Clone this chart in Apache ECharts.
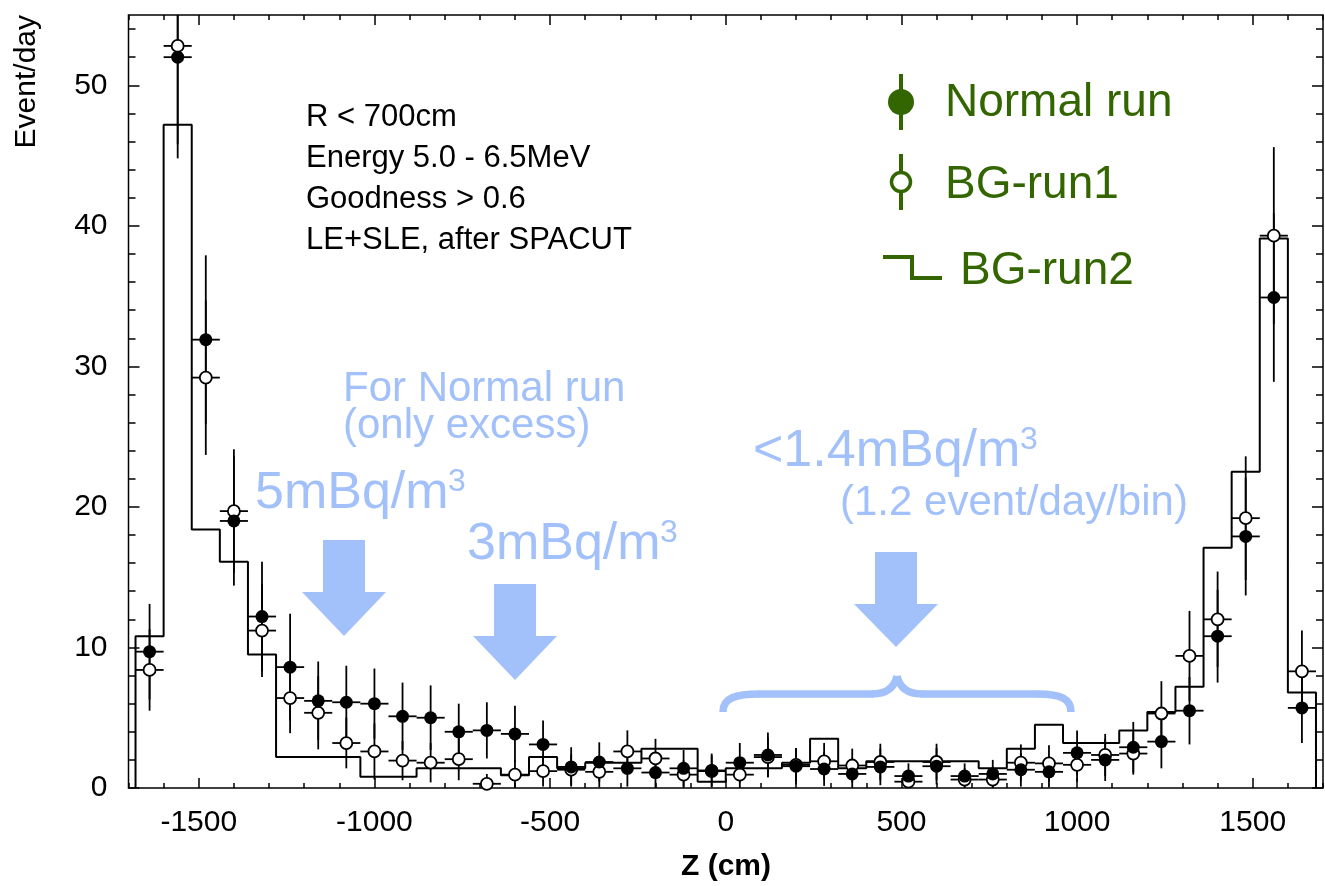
<!DOCTYPE html>
<html>
<head>
<meta charset="utf-8">
<title>Event/day vs Z</title>
<script src="https://cdn.jsdelivr.net/npm/echarts@6/dist/echarts.min.js"></script>
<style>
  html, body { margin: 0; padding: 0; background: #fff; }
  #chart { width: 1325px; height: 886px; }
</style>
</head>
<body>
<div id="chart"></div>
<script>
// 80 cm bins, centre of each bin (cm)
const zCenters = [-1640, -1560, -1480, -1400, -1320, -1240, -1160, -1080, -1000, -920,
  -840, -760, -680, -600, -520, -440, -360, -280, -200, -120, -40, 40, 120, 200, 280,
  360, 440, 520, 600, 680, 760, 840, 920, 1000, 1080, 1160, 1240, 1320, 1400, 1480, 1560, 1640];
const binHalf = 40;

// Normal run (filled circles)
const normalRun = [9.7, 52.0, 31.9, 19.0, 12.2, 8.6, 6.2, 6.1, 6.0, 5.1, 5.0, 4.0, 4.1, 3.85,
  3.1, 1.5, 1.85, 1.4, 1.1, 1.4, 1.25, 1.8, 2.35, 1.55, 1.35, 1.0, 1.5, 0.85, 1.55, 0.85,
  1.0, 1.3, 1.15, 2.5, 2.0, 2.9, 3.3, 5.5, 10.8, 17.9, 34.9, 5.7];
const normalErr = [3.4, 7.2, 6.0, 4.6, 3.9, 3.8, 2.8, 2.6, 2.5, 2.4, 2.3, 2.0, 2.0, 2.0,
  1.7, 1.4, 1.4, 1.3, 1.1, 1.3, 1.2, 1.4, 1.6, 1.3, 1.2, 1.1, 1.3, 0.9, 1.3, 0.9,
  1.0, 1.2, 1.1, 1.6, 1.5, 1.8, 1.9, 2.4, 3.3, 4.2, 6.0, 2.5];

// BG-run1 (open circles)
const bgRun1 = [8.4, 52.8, 29.2, 19.7, 11.2, 6.4, 5.35, 3.2, 2.6, 1.95, 1.8, 2.05, 0.3, 0.95,
  1.2, 1.3, 1.15, 2.6, 2.1, 0.95, 1.2, 0.95, 2.2, 1.65, 1.9, 1.6, 1.85, 0.45, 1.85, 0.6,
  0.6, 1.8, 1.75, 1.65, 2.35, 2.45, 5.3, 9.4, 12.0, 19.2, 39.3, 8.3];
const bgRun1Err = [2.9, 7.0, 5.5, 4.4, 3.3, 2.5, 2.6, 1.8, 2.0, 1.4, 1.4, 1.5, 0.7, 1.0,
  1.1, 1.1, 1.1, 1.5, 1.4, 1.0, 1.1, 1.0, 1.4, 1.2, 1.3, 1.2, 1.3, 0.7, 1.3, 0.8,
  0.8, 1.3, 1.3, 1.2, 1.5, 1.5, 2.3, 3.2, 3.4, 4.4, 6.3, 2.9];

// BG-run2 (histogram)
const bgRun2 = [10.8, 47.2, 18.4, 16.1, 9.5, 2.2, 2.2, 2.2, 0.8, 0.8, 1.4, 1.4, 1.4, 0.9,
  2.2, 1.4, 1.8, 1.8, 2.8, 2.8, 0.45, 1.4, 1.4, 1.8, 3.5, 1.4, 1.9, 1.9, 1.9, 1.9,
  1.4, 2.8, 4.5, 3.2, 3.2, 4.1, 5.4, 7.2, 17.1, 22.5, 39.1, 6.8];

const xMajorTicks = [-1500, -1000, -500, 0, 500, 1000, 1500];
const yMajorTicks = [0, 10, 20, 30, 40, 50];
const xMinorTicks = [];
for (let v = -1700; v <= 1700; v += 100) xMinorTicks.push(v);
const yMinorTicks = [];
for (let v = 0; v <= 54; v += 2) yMinorTicks.push(v);

const infoLines = ['R < 700cm', 'Energy 5.0 - 6.5MeV', 'Goodness > 0.6', 'LE+SLE, after SPACUT'];

const X_MIN = -1700, X_MAX = 1700, Y_MIN = 0, Y_MAX = 55;
const FONT = '"Liberation Sans", Arial, Helvetica, sans-serif';
const GREEN = '#336600';
const BLUE = '#a2c0fa';

// histogram outline built from the bin edges
const histData = [[zCenters[0] - binHalf, 0]];
zCenters.forEach((z, i) => {
  histData.push([z - binHalf, bgRun2[i]]);
  histData.push([z + binHalf, bgRun2[i]]);
});
histData.push([zCenters[zCenters.length - 1] + binHalf, 0]);

function errorBar(params, api) {
  const x = api.value(0), y = api.value(1), e = api.value(2);
  const cs = params.coordSys;
  const c = api.coord([x, y]);
  const top = Math.max(api.coord([x, y + e])[1], cs.y);
  const bot = Math.min(api.coord([x, y - e])[1], cs.y + cs.height);
  const l = api.coord([x - binHalf, y])[0];
  const r = api.coord([x + binHalf, y])[0];
  const style = { stroke: '#000', lineWidth: 1.8 };
  return {
    type: 'group',
    children: [
      { type: 'line', shape: { x1: c[0], y1: top, x2: c[0], y2: bot }, style: style },
      { type: 'line', shape: { x1: l, y1: c[1], x2: r, y2: c[1] }, style: style }
    ]
  };
}

function axisDef(pos, min, max, ticks, len, labels, margin) {
  return {
    type: 'value', gridIndex: 0, position: pos, min: min, max: max,
    axisLine: { show: false, onZero: false },
    splitLine: { show: false },
    axisTick: { show: true, inside: true, length: len, customValues: ticks,
      lineStyle: { color: '#000', width: 1.5 } },
    axisLabel: labels ? { show: true, customValues: ticks, color: '#000',
      fontSize: 30, fontFamily: FONT, margin: margin,
      formatter: v => String(v) } : { show: false }
  };
}

const chart = echarts.init(document.getElementById('chart'));

const graphics = [];
// info text block
infoLines.forEach((t, i) => {
  graphics.push({ type: 'text', x: 306, y: 117 + i * 41.3,
    style: { text: t, font: '31px ' + FONT, fill: '#000', verticalAlign: 'middle' } });
});
// y axis name
graphics.push({ type: 'text', x: 27, y: 15, rotation: Math.PI / 2,
  style: { text: 'Event/day', font: '30px ' + FONT, fill: '#000', align: 'right', verticalAlign: 'middle' } });
// x axis name
graphics.push({ type: 'text', x: 726, y: 867,
  style: { text: 'Z (cm)', font: 'bold 30px ' + FONT, fill: '#000', align: 'center', verticalAlign: 'middle' } });

// legend
graphics.push({ type: 'line', shape: { x1: 901, y1: 74, x2: 901, y2: 130 }, style: { stroke: GREEN, lineWidth: 4 } });
graphics.push({ type: 'circle', shape: { cx: 901, cy: 102, r: 13 }, style: { fill: GREEN } });
graphics.push({ type: 'line', shape: { x1: 901, y1: 154, x2: 901, y2: 210 }, style: { stroke: GREEN, lineWidth: 4 } });
graphics.push({ type: 'circle', shape: { cx: 901, cy: 182, r: 9.5 }, style: { fill: '#fff', stroke: GREEN, lineWidth: 3.5 } });
graphics.push({ type: 'polyline', shape: { points: [[883, 257], [912, 257], [912, 278], [942, 278]] },
  style: { stroke: GREEN, lineWidth: 4, fill: null } });
[['Normal run', 945, 103], ['BG-run1', 945, 185], ['BG-run2', 960, 271]].forEach(([t, x, y]) => {
  graphics.push({ type: 'text', x: x, y: y,
    style: { text: t, font: '46px ' + FONT, fill: GREEN, verticalAlign: 'middle' } });
});

// light-blue annotations
function blueText(t, x, y, size) {
  graphics.push({ type: 'text', x: x, y: y,
    style: { text: t, font: size + 'px ' + FONT, fill: BLUE, verticalAlign: 'middle' } });
}
blueText('For Normal run', 343, 389, 42);
blueText('(only excess)', 343, 426, 42);
blueText('5mBq/m', 255, 494, 52);
blueText('3', 448, 482, 32);
blueText('3mBq/m', 467, 545, 52);
blueText('3', 660, 533, 32);
blueText('<1.4mBq/m', 753, 452, 52);
blueText('3', 1020, 440, 32);
blueText('(1.2 event/day/bin)', 840, 503, 42);

function arrow(cx, top, headTop, tip) {
  graphics.push({ type: 'polygon', shape: { points: [
    [cx - 21, top], [cx + 21, top], [cx + 21, headTop], [cx + 42, headTop],
    [cx, tip], [cx - 42, headTop], [cx - 21, headTop]] }, style: { fill: BLUE } });
}
arrow(344, 540, 592, 636);
arrow(515, 584, 636, 680);
arrow(896, 552, 604, 647);

// brace
const braceStyle = { stroke: BLUE, lineWidth: 7.5, fill: null };
graphics.push({ type: 'bezierCurve', shape: { x1: 723, y1: 712, cpx1: 723, cpy1: 698, cpx2: 735, cpy2: 694, x2: 760, y2: 694 }, style: braceStyle });
graphics.push({ type: 'line', shape: { x1: 759, y1: 694, x2: 873, y2: 694 }, style: braceStyle });
graphics.push({ type: 'bezierCurve', shape: { x1: 872, y1: 694, cpx1: 893, cpy1: 694, x2: 897, y2: 676 }, style: braceStyle });
graphics.push({ type: 'bezierCurve', shape: { x1: 897, y1: 676, cpx1: 901, cpy1: 694, x2: 922, y2: 694 }, style: braceStyle });
graphics.push({ type: 'line', shape: { x1: 921, y1: 694, x2: 1039, y2: 694 }, style: braceStyle });
graphics.push({ type: 'bezierCurve', shape: { x1: 1038, y1: 694, cpx1: 1061, cpy1: 694, cpx2: 1071, cpy2: 699, x2: 1071, y2: 712 }, style: braceStyle });

chart.setOption({
  animation: false,
  backgroundColor: '#fff',
  grid: {
    left: 128.5, top: 15, width: 1194.5, height: 773,
    show: true, borderColor: '#000', borderWidth: 1.5, backgroundColor: 'transparent'
  },
  xAxis: [
    axisDef('bottom', X_MIN, X_MAX, xMajorTicks, 10, true, 20),
    axisDef('bottom', X_MIN, X_MAX, xMinorTicks, 5, false),
    axisDef('top', X_MIN, X_MAX, xMajorTicks, 10, false),
    axisDef('top', X_MIN, X_MAX, xMinorTicks, 5, false)
  ],
  yAxis: [
    axisDef('left', Y_MIN, Y_MAX, yMajorTicks, 11, true, 21),
    axisDef('left', Y_MIN, Y_MAX, yMinorTicks, 7, false),
    axisDef('right', Y_MIN, Y_MAX, yMajorTicks, 11, false),
    axisDef('right', Y_MIN, Y_MAX, yMinorTicks, 7, false)
  ],
  graphic: { elements: graphics },
  series: [
    {
      name: 'BG-run2', type: 'line', xAxisIndex: 0, yAxisIndex: 0,
      data: histData, showSymbol: false, symbol: 'none', z: 2,
      lineStyle: { color: '#000', width: 2 }
    },
    {
      name: 'Normal run err', type: 'custom', xAxisIndex: 0, yAxisIndex: 0, z: 3,
      renderItem: errorBar, encode: { x: 0, y: 1 },
      data: zCenters.map((z, i) => [z, normalRun[i], normalErr[i]])
    },
    {
      name: 'BG-run1 err', type: 'custom', xAxisIndex: 0, yAxisIndex: 0, z: 3,
      renderItem: errorBar, encode: { x: 0, y: 1 },
      data: zCenters.map((z, i) => [z, bgRun1[i], bgRun1Err[i]])
    },
    {
      name: 'BG-run1', type: 'scatter', xAxisIndex: 0, yAxisIndex: 0, z: 4,
      symbol: 'circle', symbolSize: 12,
      itemStyle: { color: '#fff', borderColor: '#000', borderWidth: 1.8, opacity: 1 },
      data: zCenters.map((z, i) => [z, bgRun1[i]])
    },
    {
      name: 'Normal run', type: 'scatter', xAxisIndex: 0, yAxisIndex: 0, z: 5,
      symbol: 'circle', symbolSize: 13,
      itemStyle: { color: '#000', opacity: 1 },
      data: zCenters.map((z, i) => [z, normalRun[i]])
    }
  ]
});
</script>
</body>
</html>
